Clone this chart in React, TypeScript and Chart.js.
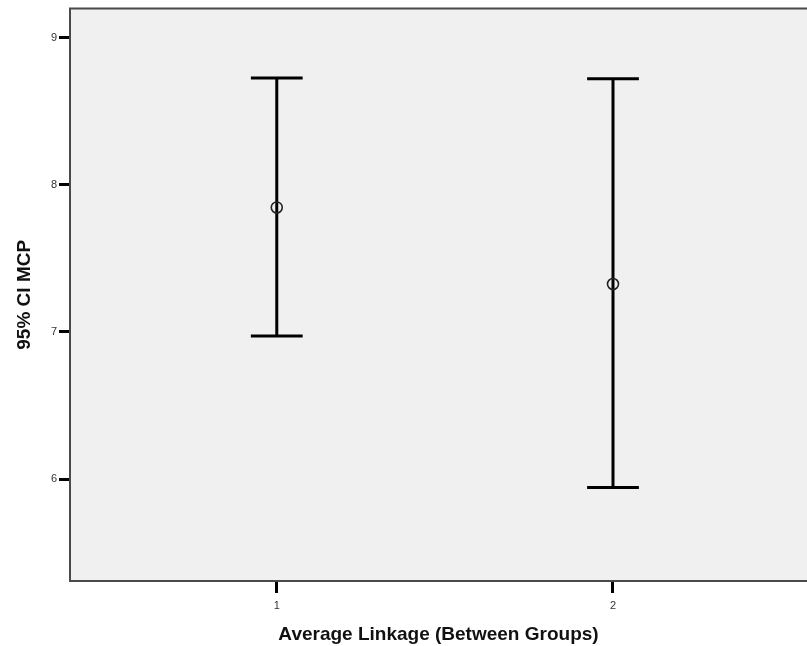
import React, { useEffect, useRef } from "react";
import { Chart, registerables } from "chart.js";

Chart.register(...registerables);

const groups = [1, 2];
const means = [7.846, 7.326];
const lowers = [6.973, 5.944];
const uppers = [8.726, 8.72];
const xTickValues = [1, 2];
const yTickValues = [6, 7, 8, 9];
const xTitle = "Average Linkage (Between Groups)";
const yTitle = "95% CI MCP";

const CAP_HALF = 0.077; // in x units
const FONT = "'Liberation Sans', Arial, sans-serif";

const bgPlugin = {
  id: "bgFrame",
  beforeDraw(chart: any) {
    const { ctx, chartArea } = chart;
    ctx.save();
    ctx.fillStyle = "#f0f0f0";
    ctx.fillRect(chartArea.left, chartArea.top, chartArea.right - chartArea.left, chartArea.bottom - chartArea.top);
    ctx.restore();
  },
  afterDraw(chart: any) {
    const { ctx, chartArea } = chart;
    ctx.save();
    ctx.strokeStyle = "#4a4a4a";
    ctx.lineWidth = 2;
    ctx.beginPath();
    ctx.moveTo(chartArea.right + 2, chartArea.top);
    ctx.lineTo(chartArea.left, chartArea.top);
    ctx.lineTo(chartArea.left, chartArea.bottom);
    ctx.lineTo(chartArea.right + 2, chartArea.bottom);
    ctx.stroke();
    ctx.restore();
  },
};

const errorBarPlugin = {
  id: "errorBars",
  beforeDatasetsDraw(chart: any) {
    const { ctx } = chart;
    const xs = chart.scales.x;
    const ys = chart.scales.y;
    ctx.save();
    ctx.strokeStyle = "#000";
    ctx.lineWidth = 3;
    ctx.lineCap = "butt";
    groups.forEach((g, i) => {
      const x = xs.getPixelForValue(g);
      const xl = xs.getPixelForValue(g - CAP_HALF);
      const xr = xs.getPixelForValue(g + CAP_HALF);
      const yl = ys.getPixelForValue(lowers[i]);
      const yu = ys.getPixelForValue(uppers[i]);
      ctx.beginPath();
      ctx.moveTo(x, yl);
      ctx.lineTo(x, yu);
      ctx.moveTo(xl, yl);
      ctx.lineTo(xr, yl);
      ctx.moveTo(xl, yu);
      ctx.lineTo(xr, yu);
      ctx.stroke();
    });
    ctx.restore();
  },
};

export default function App() {
  const ref = useRef<HTMLCanvasElement | null>(null);
  useEffect(() => {
    if (!ref.current) return;
    const chart = new Chart(ref.current, {
      type: "scatter",
      data: {
        datasets: [
          {
            label: "Mean",
            data: groups.map((g, i) => ({ x: g, y: means[i] })),
            pointRadius: 5.5,
            pointBorderWidth: 1.6,
            pointBorderColor: "#222",
            pointBackgroundColor: "rgba(0,0,0,0)",
            pointStyle: "circle",
          },
        ],
      },
      plugins: [bgPlugin, errorBarPlugin],
      options: {
        animation: false,
        responsive: false,
        events: [],
        layout: { autoPadding: false, padding: { top: 8, left: 0, right: 0, bottom: 0 } },
        plugins: { legend: { display: false }, tooltip: { enabled: false } },
        scales: {
          x: {
            type: "linear",
            min: 0.385,
            max: 2.577,
            afterBuildTicks(scale: any) {
              scale.ticks = xTickValues.map((v) => ({ value: v }));
            },
            afterFit(scale: any) {
              scale.height = 65;
            },
            border: { display: false },
            grid: {
              drawOnChartArea: false,
              drawTicks: true,
              tickLength: 12,
              tickWidth: 3,
              tickColor: "#000",
            },
            ticks: {
              padding: 6,
              color: "#333",
              font: { family: FONT, size: 11 },
              callback: (v: any) => String(v),
            },
            title: {
              display: true,
              text: xTitle,
              color: "#111",
              font: { family: FONT, size: 19, weight: "bold" },
              padding: { top: 0, bottom: 0 },
            },
          },
          y: {
            type: "linear",
            min: 5.308,
            max: 9.197,
            afterBuildTicks(scale: any) {
              scale.ticks = yTickValues.map((v) => ({ value: v }));
            },
            afterFit(scale: any) {
              scale.width = 70;
            },
            border: { display: false },
            grid: {
              drawOnChartArea: false,
              drawTicks: true,
              tickLength: 11,
              tickWidth: 3,
              tickColor: "#000",
            },
            ticks: {
              padding: 2,
              color: "#333",
              font: { family: FONT, size: 11 },
              callback: (v: any) => String(v),
            },
            title: {
              display: true,
              text: yTitle,
              color: "#111",
              font: { family: FONT, size: 19, weight: "bold" },
              padding: { top: 13, bottom: 0 },
            },
          },
        },
      },
    } as any);
    return () => chart.destroy();
  }, []);
  return (
    <div style={{ position: "absolute", left: 0, top: 0, width: 807, height: 646, background: "#fff" }}>
      <canvas ref={ref} width={807} height={646} />
    </div>
  );
}
